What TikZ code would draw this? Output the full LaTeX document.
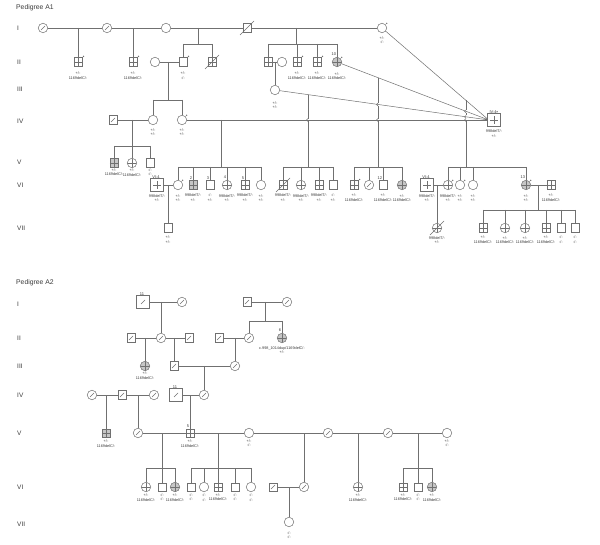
\documentclass[tikz,border=0pt]{standalone}
\usepackage{fontspec}
\setmainfont{Liberation Sans}
\usetikzlibrary{positioning,calc}
\definecolor{lc}{HTML}{707070}
\definecolor{tc}{HTML}{3A3A3A}
\pgfdeclarelayer{bgw}
\pgfdeclarelayer{bgl}
\pgfsetlayers{bgw,bgl,main}
\newcommand\dotm[1]{\fill[lc] ([shift={(1.3pt,1.3pt)}]#1.north east) circle (0.75pt);}
\newcommand\pdead[1]{\draw[ln] ([shift={(-7pt,-7pt)}]#1.center) -- ([shift={(7pt,7pt)}]#1.center);}
\newcommand\plab[4][3.5pt]{\node[labst, below=#1 of #2] (#2-l) {#3\\#4};}
\newcommand\numl[2]{\node[numst, anchor=south east] (#1-n) at ([shift={(-0.8pt,1.2pt)}]#1.north) {#2};}
\newcommand\numd[2]{\node[numst, anchor=south] (#1-n) at ([shift={(-1pt,1.4pt)}]#1.north) {#2};}
\tikzset{
  ln/.style={draw=lc, line width=0.5pt},
  base/.style={draw=lc, line width=0.5pt, fill=white, inner sep=0pt, outer sep=0pt},
  sq/.style={base, rectangle, minimum size=8.5pt},
  ci/.style={base, circle, minimum size=9.5pt},
  dsq/.style={base, rectangle, minimum size=10.5pt, double=white, double distance=1.7pt},
  shd/.style={fill=gray!45},
  crs/.style={path picture={\draw[lc, line width=0.4pt] (path picture bounding box.north) -- (path picture bounding box.south) (path picture bounding box.west) -- (path picture bounding box.east);}},
  mk/.style={path picture={\draw[lc, line width=0.4pt] ([shift={(-2pt,-2pt)}]path picture bounding box.center) -- ([shift={(2pt,2pt)}]path picture bounding box.center);}},
  labst/.style={font=\fontsize{3.8}{4.7}\selectfont, align=center, inner sep=0pt, text=tc},
  numst/.style={font=\fontsize{4}{4.5}\selectfont, inner sep=0pt, text=tc},
  rowst/.style={font=\fontsize{6.5}{7}\selectfont, anchor=west, inner sep=0pt, text=tc},
  ttlst/.style={font=\fontsize{6.8}{7}\selectfont, anchor=west, inner sep=0pt, text=tc}
}
\begin{document}
\begin{tikzpicture}[x=1pt, y=-1pt]
\useasboundingbox (0,0) rectangle (600,545);
\begin{pgfonlayer}{bgw}
\fill[white] (0,0) rectangle (600,545);
\end{pgfonlayer}

% ================= Pedigree A1 =================
\node[ttlst] (t1) at (16,8) {Pedigree A1};
\node[rowst] (r1) at (17,28) {I};
\node[rowst] (r2) at (17,62) {II};
\node[rowst] (r3) at (17,89) {III};
\node[rowst] (r4) at (17,121) {IV};
\node[rowst] (r5) at (17,162) {V};
\node[rowst] (r6) at (17,185) {VI};
\node[rowst] (r7) at (17,228) {VII};

% Row I
\node[ci,mk] (a1) at (43,28) {};
\node[ci,mk] (a2) at (107,28) {};
\node[ci] (a3) at (166,28) {};
\node[sq] (a4) at (247,28) {}; \pdead{a4}
\node[ci] (a5) at (382,28) {}; \dotm{a5} \plab{a5}{+/-}{-/-}

% Row II
\node[sq,crs] (b1) at (78,62) {}; \dotm{b1} \plab[5.5pt]{b1}{+/-}{1169delC/-}
\node[sq,crs] (b2) at (133,62) {}; \dotm{b2} \plab[5.5pt]{b2}{+/-}{1169delC/-}
\node[ci] (b3) at (155,62) {};
\node[sq] (b4) at (183,62) {}; \dotm{b4} \plab[5.5pt]{b4}{+/-}{-/-}
\node[sq,crs] (b5) at (212,62) {}; \pdead{b5}
\node[sq,crs] (b6) at (268,62) {};
\node[ci] (b7) at (282,62) {};
\node[sq,crs] (b8) at (297,62) {}; \dotm{b8} \plab[5.5pt]{b8}{+/-}{1169delC/-}
\node[sq,crs] (b9) at (317,62) {}; \dotm{b9} \plab[5.5pt]{b9}{+/-}{1169delC/-}
\node[ci,shd,crs] (b10) at (337,62) {}; \dotm{b10} \numl{b10}{10} \plab[5.5pt]{b10}{+/-}{1169delC/-}

% Row III
\node[ci] (c1) at (275,90) {}; \plab[6.5pt]{c1}{+/-}{+/-}

% Row IV
\node[sq,mk] (d0) at (113,120) {};
\node[ci] (d1) at (153,120) {}; \plab{d1}{+/-}{+/-}
\node[ci] (d2) at (182,120) {}; \dotm{d2} \plab{d2}{+/-}{+/-}
\node[dsq,crs] (dP) at (494,120) {};
\fill[lc] ([shift={(3pt,3pt)}]dP.north) circle (0.75pt);
\numd{dP}{IV:4} \plab[4.2pt]{dP}{998delT/-}{+/-}

% Row V
\node[sq,shd,crs] (e1) at (114,163) {}; \plab[1pt]{e1}{+/-}{1169delC/-}
\node[ci,crs] (e2) at (132,163) {}; \plab[1pt]{e2}{+/-}{1169delC/-}
\node[sq] (e3) at (150,163) {}; \plab[1pt]{e3}{-/-}{-/-}

% Row VI
\node[dsq,crs] (f1) at (157,185) {}; \numd{f1}{VI:4} \plab[4pt]{f1}{998delT/-}{+/-}
\node[ci] (f2) at (178,185) {}; \dotm{f2} \plab[4.5pt]{f2}{+/-}{+/-}
\node[sq,shd,crs] (f3) at (193,185) {}; \numl{f3}{2} \plab[4.5pt]{f3}{998delT/-}{+/-}
\node[sq] (f4) at (210,185) {}; \numl{f4}{3} \plab[4.5pt]{f4}{-/-}{+/-}
\node[ci,crs] (f5) at (227,185) {}; \numl{f5}{4} \plab[4.5pt]{f5}{998delT/-}{+/-}
\node[sq,crs] (f6) at (245,185) {}; \numl{f6}{5} \plab[4.5pt]{f6}{998delT/-}{+/-}
\node[ci] (f7) at (261,185) {}; \plab[4.5pt]{f7}{+/-}{+/-}
\node[sq,crs] (f8) at (283,185) {}; \pdead{f8} \plab[4.5pt]{f8}{998delT/-}{+/-}
\node[ci,crs] (f9) at (301,185) {}; \plab[4.5pt]{f9}{998delT/-}{+/-}
\node[sq,crs] (f10) at (319,185) {}; \plab[4.5pt]{f10}{998delT/-}{+/-}
\node[sq] (f11) at (333,185) {}; \plab[4.5pt]{f11}{-/-}{+/-}
\node[sq,crs] (f12) at (354,185) {}; \dotm{f12} \plab[4.5pt]{f12}{+/-}{1169delC/-}
\node[ci,mk] (f13) at (369,185) {};
\node[sq] (f14) at (383,185) {}; \numl{f14}{12} \plab[4.5pt]{f14}{+/-}{1169delC/-}
\node[ci,shd,crs] (f15) at (402,185) {}; \plab[4.5pt]{f15}{+/-}{1169delC/-}
\node[dsq,crs] (f16) at (427,185) {}; \numd{f16}{VI:4} \plab[4pt]{f16}{998delT/-}{+/-}
\node[ci,crs] (f17) at (448,185) {}; \dotm{f17} \plab[4.5pt]{f17}{998delT/-}{+/-}
\node[ci] (f18) at (460,185) {}; \dotm{f18} \plab[4.5pt]{f18}{+/-}{+/-}
\node[ci] (f19) at (473,185) {}; \plab[4.5pt]{f19}{+/-}{+/-}
\node[ci,shd,crs] (f20) at (526,185) {}; \dotm{f20} \numl{f20}{13} \plab[4.5pt]{f20}{+/-}{+/-}
\node[sq,crs] (f21) at (551,185) {}; \plab[4.5pt]{f21}{+/-}{1169delC/-}

% Row VII
\node[sq] (g1) at (168,228) {}; \plab{g1}{+/-}{+/-}
\node[ci,crs] (g2) at (437,228) {}; \pdead{g2} \plab{g2}{998delT/-}{+/-}
\node[sq,crs] (g3) at (483,228) {}; \plab{g3}{+/-}{1169delC/-}
\node[ci,crs] (g4) at (505,228) {}; \plab{g4}{+/-}{1169delC/-}
\node[ci,crs] (g5) at (525,228) {}; \plab{g5}{+/-}{1169delC/-}
\node[sq,crs] (g6) at (546,228) {}; \plab{g6}{+/-}{1169delC/-}
\node[sq] (g7) at (561,228) {}; \plab{g7}{-/-}{-/-}
\node[sq] (g8) at (575,228) {}; \plab{g8}{-/-}{-/-}

% ================= Pedigree A2 =================
\node[ttlst] (t2) at (16,283) {Pedigree A2};
\node[rowst] (q1) at (17,304) {I};
\node[rowst] (q2) at (17,338) {II};
\node[rowst] (q3) at (17,366) {III};
\node[rowst] (q4) at (17,395) {IV};
\node[rowst] (q5) at (17,433) {V};
\node[rowst] (q6) at (17,487) {VI};
\node[rowst] (q7) at (17,524) {VII};

\node[dsq,mk] (h1) at (143,302) {}; \numd{h1}{11}
\node[ci,mk] (h2) at (182,302) {};
\node[sq,mk] (h3) at (247,302) {};
\node[ci,mk] (h4) at (287,302) {};

\node[sq,mk] (i1) at (131,338) {};
\node[ci,mk] (i2) at (161,338) {};
\node[sq,mk] (i3) at (189,338) {};
\node[sq,mk] (i4) at (219,338) {};
\node[ci,mk] (i5) at (249,338) {};
\node[ci,shd,crs] (i6) at (282,338) {}; \numl{i6}{6} \plab{i6}{c.998\_1014dup/1169delC/-}{+/-}

\node[ci,shd,crs] (j1) at (145,366) {}; \plab[1pt]{j1}{+/-}{1169delC/-}
\node[sq,mk] (j2) at (174,366) {};
\node[ci,mk] (j3) at (235,366) {};

\node[ci,mk] (k1) at (92,395) {};
\node[sq,mk] (k2) at (122,395) {};
\node[ci,mk] (k3) at (154,395) {};
\node[dsq,mk] (k5) at (176,395) {}; \numd{k5}{11}
\node[ci,mk] (k4) at (204,395) {};

\node[sq,shd,crs] (l1) at (106,433) {}; \plab[2.5pt]{l1}{+/-}{1169delC/-}
\node[ci,mk] (l2) at (138,433) {};
\node[sq,crs] (l3) at (190,433) {}; \numl{l3}{5} \plab[2.5pt]{l3}{+/-}{1169delC/-}
\node[ci] (l4) at (249,433) {}; \plab[1.5pt]{l4}{+/-}{-/-}
\node[ci,mk] (l5) at (328,433) {};
\node[ci,mk] (l6) at (388,433) {};
\node[ci] (l7) at (447,433) {}; \plab[1.5pt]{l7}{+/-}{-/-}

\node[ci,crs] (m1) at (146,487) {}; \plab[2pt]{m1}{+/-}{1169delC/-}
\node[sq] (m2) at (162,487) {}; \plab[2pt]{m2}{-/-}{-/-}
\node[ci,shd,crs] (m3) at (175,487) {}; \plab[2pt]{m3}{+/-}{1169delC/-}
\node[sq] (m4) at (191,487) {}; \plab[2pt]{m4}{-/-}{-/-}
\node[ci] (m5) at (204,487) {}; \plab[2pt]{m5}{-/-}{-/-}
\node[sq,crs] (m6) at (218,487) {}; \plab[2pt]{m6}{+/-}{1169delC/-}
\node[sq] (m7) at (235,487) {}; \plab[2pt]{m7}{-/-}{-/-}
\node[ci] (m8) at (251,487) {}; \plab[2pt]{m8}{-/-}{-/-}
\node[sq,mk] (m9) at (273,487) {};
\node[ci,mk] (m10) at (304,487) {};
\node[ci,crs] (m11) at (358,487) {}; \plab[2pt]{m11}{+/-}{1169delC/-}
\node[sq,crs] (m12) at (403,487) {}; \plab[2pt]{m12}{+/-}{1169delC/-}
\node[sq] (m13) at (418,487) {}; \plab[2pt]{m13}{-/-}{-/-}
\node[ci,shd,crs] (m14) at (432,487) {}; \plab[2pt]{m14}{+/-}{1169delC/-}

\node[ci] (n1) at (289,522) {}; \plab[4.5pt]{n1}{-/-}{-/-}

% ================= connectors =================
\begin{pgfonlayer}{bgl}
% A1
\draw[ln] (a1) -- (a2) (a2) -- (a3) (a3) -- (a4) (a4) -- (a5);
\coordinate (u1) at (78,28); \draw[ln] (u1) -- (b1);
\coordinate (u2) at (133,28); \draw[ln] (u2) -- (b2);
\coordinate (u3) at (198,28); \coordinate (s3) at (0,44);
\draw[ln] (u3) -- (u3|-s3) (b4|-s3) -- (b5|-s3);
\foreach \n in {b4,b5} \draw[ln] (\n|-s3) -- (\n);
\coordinate (u4) at (296,28);
\draw[ln] (u4) -- (u4|-s3) (b6|-s3) -- (b10|-s3);
\foreach \n in {b6,b8,b9,b10} \draw[ln] (\n|-s3) -- (\n);
\draw[ln] (b3) -- (b4) (b6) -- (b7);
\coordinate (u5) at (168,62); \coordinate (s5) at (0,100);
\draw[ln] (u5) -- (u5|-s5) (d1|-s5) -- (d2|-s5);
\foreach \n in {d1,d2} \draw[ln] (\n|-s5) -- (\n);
\coordinate (u6) at (275,62); \draw[ln] (u6) -- (c1);
\draw[ln] (d0) -- (d1) (d2) -- (dP.west);
\draw[ln] (a5) -- (dP.west) (b10) -- (dP.west) (c1) -- (dP.west);
\coordinate (u7) at (132,120); \coordinate (s7) at (0,146);
\draw[ln] (u7) -- (u7|-s7) (e1|-s7) -- (e3|-s7);
\foreach \n in {e1,e2,e3} \draw[ln] (\n|-s7) -- (\n);
\coordinate (s8) at (0,167);
\coordinate (u8) at (221,120);
\draw[ln] (u8) -- (u8|-s8) (f2|-s8) -- (f7|-s8);
\foreach \n in {f2,f3,f4,f5,f6,f7} \draw[ln] (\n|-s8) -- (\n);
\draw[ln] (f1) -- (f2);
\coordinate (u9) at (168,185); \draw[ln] (u9) -- (g1);
% child line from the III:1 union, with a hop over generation IV
\coordinate (u10) at (308,94.6);
\draw[ln] (u10) -- (308,118.6) (308,121.4) -- (u10|-s8);
\draw[ln] (308,118.6) .. controls (306,118.6) and (306,121.4) .. (308,121.4);
\draw[ln] (f8|-s8) -- (f11|-s8);
\foreach \n in {f8,f9,f10,f11} \draw[ln] (\n|-s8) -- (\n);
% child line from the II:10 union
\coordinate (u11) at (378,77.7);
\draw[ln] (u11) -- (378,103.1) (378,105.9) -- (378,118.6) (378,121.4) -- (u11|-s8);
\draw[ln] (378,103.1) .. controls (376,103.1) and (376,105.9) .. (378,105.9);
\draw[ln] (378,118.6) .. controls (376,118.6) and (376,121.4) .. (378,121.4);
\draw[ln] (f12|-s8) -- (f15|-s8);
\foreach \n in {f12,f13,f14,f15} \draw[ln] (\n|-s8) -- (\n);
% child line from the I union
\coordinate (u12) at (466,100.4);
\draw[ln] (u12) -- (466,109.9) (466,112.7) -- (466,115.5) (466,121.4) -- (u12|-s8);
\draw[ln] (466,109.9) .. controls (464,109.9) and (464,112.7) .. (466,112.7);
\draw[ln] (466,115.5) .. controls (464,115.5) and (464,118.3) .. (466,118.3);
\draw[ln] (466,118.6) .. controls (464,118.6) and (464,121.4) .. (466,121.4);
\draw[ln] (f17|-s8) -- (f20|-s8);
\foreach \n in {f17,f18,f19,f20} \draw[ln] (\n|-s8) -- (\n);
\draw[ln] (f16) -- (f17);
\coordinate (u13) at (437,185); \draw[ln] (u13) -- (g2);
\draw[ln] (f20) -- (f21);
\coordinate (u14) at (538,185); \coordinate (s14) at (0,210);
\draw[ln] (u14) -- (u14|-s14) (g3|-s14) -- (g8|-s14);
\foreach \n in {g3,g4,g5,g6,g7,g8} \draw[ln] (\n|-s14) -- (\n);

% A2
\draw[ln] (h1) -- (h2) (h3) -- (h4);
\coordinate (v1) at (161,302); \draw[ln] (v1) -- (i2);
\coordinate (v2) at (265,302); \coordinate (s21) at (0,321);
\draw[ln] (v2) -- (v2|-s21) (i5|-s21) -- (i6|-s21);
\foreach \n in {i5,i6} \draw[ln] (\n|-s21) -- (\n);
\draw[ln] (i1) -- (i2) (i2) -- (i3) (i4) -- (i5);
\coordinate (v3) at (145,338); \draw[ln] (v3) -- (j1);
\coordinate (v4) at (174,338); \draw[ln] (v4) -- (j2);
\coordinate (v5) at (235,338); \draw[ln] (v5) -- (j3);
\draw[ln] (j2) -- (j3);
\coordinate (v6) at (204,366); \draw[ln] (v6) -- (k4);
\draw[ln] (k1) -- (k2) (k2) -- (k3) (k5) -- (k4);
\coordinate (v7) at (106,395); \draw[ln] (v7) -- (l1);
\coordinate (v8) at (138,395); \draw[ln] (v8) -- (l2);
\coordinate (v9) at (190,395); \draw[ln] (v9) -- (l3);
\draw[ln] (l2) -- (l3) (l3) -- (l4) (l4) -- (l5) (l5) -- (l6) (l6) -- (l7);
\coordinate (s22) at (0,468);
\coordinate (v10) at (162,433);
\draw[ln] (v10) -- (v10|-s22) (m1|-s22) -- (m3|-s22);
\foreach \n in {m1,m2,m3} \draw[ln] (\n|-s22) -- (\n);
\coordinate (v11) at (218,433);
\draw[ln] (v11) -- (v11|-s22) (m4|-s22) -- (m8|-s22);
\foreach \n in {m4,m5,m6,m7,m8} \draw[ln] (\n|-s22) -- (\n);
\coordinate (v12) at (304,433); \draw[ln] (v12) -- (m10);
\draw[ln] (m9) -- (m10);
\coordinate (v13) at (289,487); \draw[ln] (v13) -- (n1);
\coordinate (v14) at (358,433); \draw[ln] (v14) -- (m11);
\coordinate (v15) at (418,433);
\draw[ln] (v15) -- (v15|-s22) (m12|-s22) -- (m14|-s22);
\foreach \n in {m12,m13,m14} \draw[ln] (\n|-s22) -- (\n);
\end{pgfonlayer}
\end{tikzpicture}
\end{document}
